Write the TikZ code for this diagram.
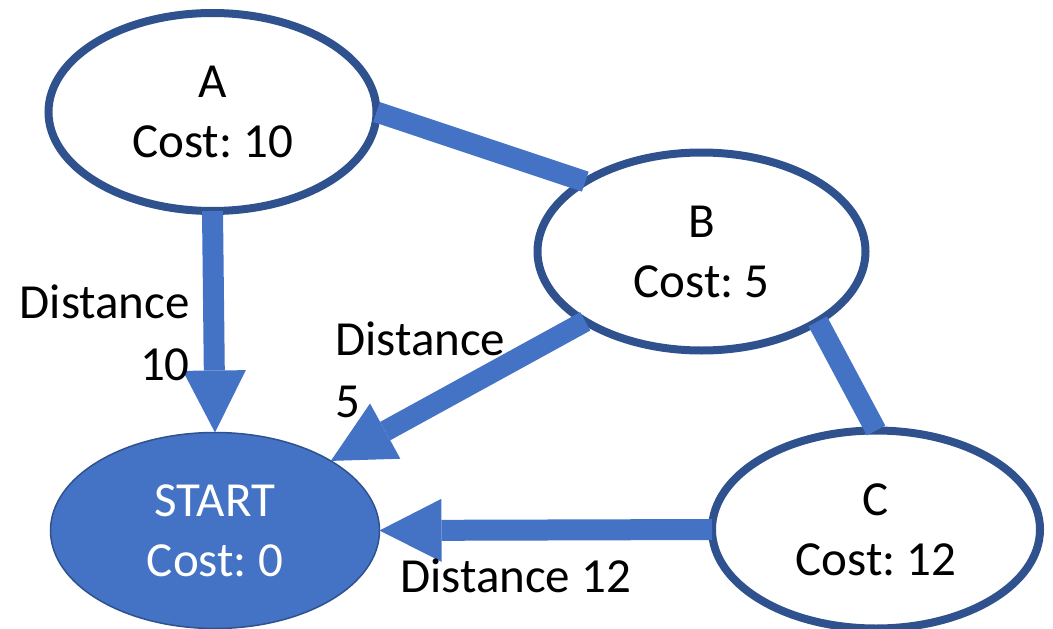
\documentclass[tikz,border=0pt]{standalone}
\usepackage{fontspec}
\setmainfont{Carlito}
\usetikzlibrary{shapes.geometric,arrows.meta}
\definecolor{edgeblue}{HTML}{4472C4}
\definecolor{rimblue}{HTML}{2F528F}
\frenchspacing
\begin{document}
\frenchspacing
\begin{tikzpicture}[x=1pt,y=-1pt,
  state/.style={ellipse, draw=rimblue, line width=8pt, fill=white,
    minimum width=328pt, minimum height=198pt, inner sep=0pt, outer sep=0pt,
    align=center, font=\fontsize{49}{60}\selectfont\frenchspacing},
  startstate/.style={state, fill=edgeblue, line width=1.5pt,
    minimum width=329pt, minimum height=196pt, text=white},
  link/.style={draw=edgeblue, line width=21pt},
  arrowlink/.style={link, -{Triangle[length=62pt,width=63pt,line width=0pt]}},
  lbl/.style={font=\fontsize{49}{62}\selectfont, inner sep=0pt}
]
\useasboundingbox (0,0) rectangle (1053,629);
\node[state] (A) at (212.5,112) {A\\Cost: 10};
\node[state] (B) at (701.5,251.5) {B\\Cost: 5};
\node[startstate] (S) at (215,530.5) {START\\Cost: 0};
\node[state] (C) at (876,529.5) {C\\Cost: 12};

\draw[link] (A.east) -- (B.149);
\draw[arrowlink] (A.south) -- (S.north);
\draw[arrowlink] (B.211) -- (S.31);
\draw[link] (B.329) -- (C.north);
\draw[arrowlink] (C.west) -- (S.east);

\node[lbl, align=right, anchor=base east] (l1) at (190,380) {Distance\\10};
\node[lbl, align=left, anchor=base west] (l2) at (335,417) {Distance\\5};
\node[lbl, anchor=base west] (l3) at (400,592) {Distance 12};
\end{tikzpicture}
\end{document}
